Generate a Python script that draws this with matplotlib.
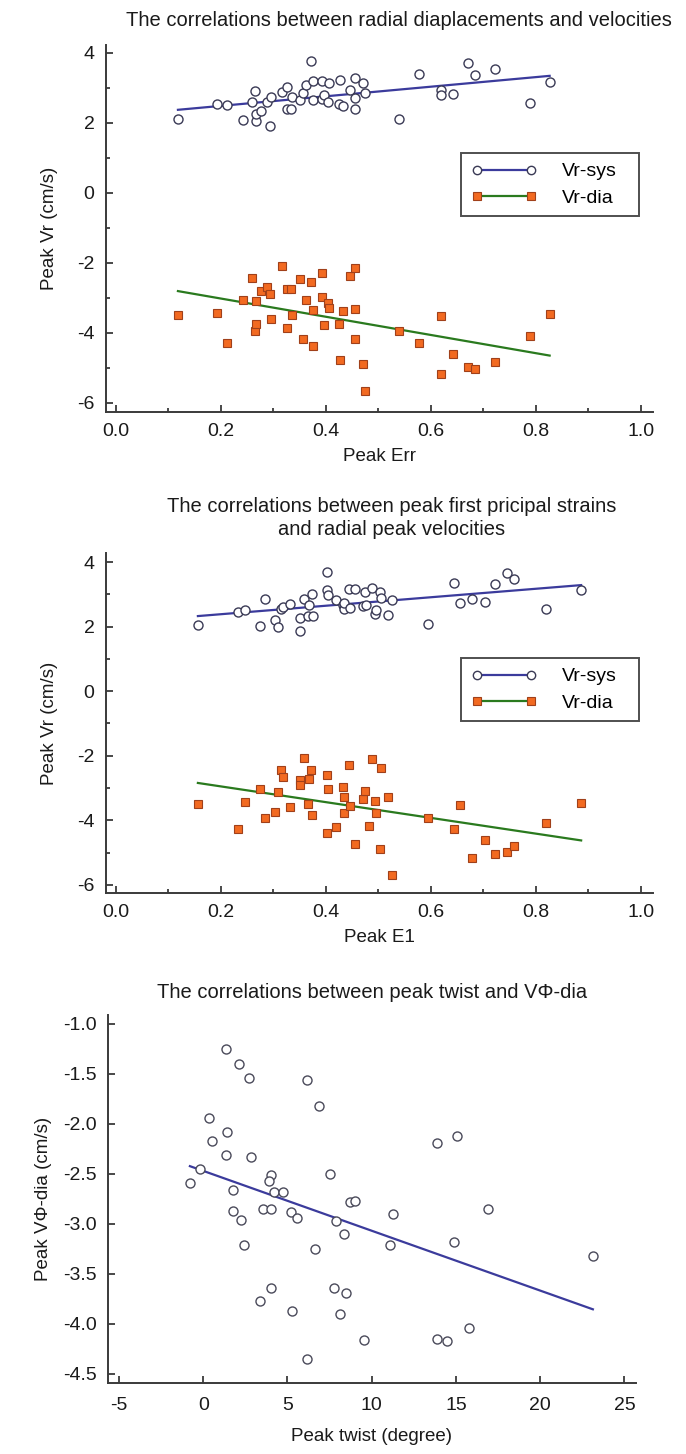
import numpy as np
import matplotlib
matplotlib.use("Agg")
import matplotlib.pyplot as plt
from matplotlib.lines import Line2D
from matplotlib.ticker import MultipleLocator, FormatStrFormatter

plt.rcParams['font.family'] = ['Liberation Sans', 'DejaVu Sans']
plt.rcParams['axes.unicode_minus'] = False

# ---------------- data ----------------
# Panel 1: Peak Err vs Peak Vr
err = [0.118, 0.193, 0.211, 0.242, 0.260, 0.265, 0.267, 0.267, 0.277, 0.288,
       0.293, 0.295, 0.317, 0.326, 0.326, 0.333, 0.335, 0.351, 0.356, 0.361,
       0.372, 0.375, 0.375, 0.392, 0.392, 0.396, 0.404, 0.406, 0.425, 0.427,
       0.432, 0.446, 0.455, 0.455, 0.455, 0.470, 0.474, 0.539, 0.577, 0.619,
       0.619, 0.642, 0.670, 0.684, 0.721, 0.788, 0.826]
vr_sys_1 = [2.10, 2.54, 2.50, 2.07, 2.59, 2.90, 2.05, 2.26, 2.32, 2.59,
            1.90, 2.73, 2.88, 3.02, 2.40, 2.40, 2.73, 2.66, 2.85, 3.07,
            3.76, 3.19, 2.66, 3.19, 2.69, 2.78, 2.59, 3.13, 2.54, 3.23,
            2.47, 2.94, 3.29, 2.71, 2.40, 3.13, 2.85, 2.11, 3.38, 2.92,
            2.78, 2.83, 3.70, 3.35, 3.54, 2.56, 3.16]
vr_dia_1 = [-3.50, -3.45, -4.30, -3.07, -2.43, -3.95, -3.11, -3.74, -2.81, -2.69,
            -2.90, -3.60, -2.10, -2.76, -3.86, -2.76, -3.51, -2.48, -4.19, -3.07,
            -2.55, -3.36, -4.38, -2.97, -2.30, -3.78, -3.14, -3.29, -3.76, -4.77,
            -3.38, -2.38, -2.14, -3.33, -4.19, -4.89, -5.68, -3.95, -4.30, -3.53,
            -5.17, -4.61, -4.99, -5.05, -4.83, -4.10, -3.48]

# Panel 2: Peak E1 vs Peak Vr
e1_sys = [0.156, 0.232, 0.246, 0.275, 0.284, 0.302, 0.309, 0.314, 0.319, 0.332,
          0.351, 0.351, 0.358, 0.366, 0.368, 0.373, 0.375, 0.401, 0.401, 0.404,
          0.420, 0.432, 0.434, 0.435, 0.444, 0.446, 0.456, 0.470, 0.474, 0.477,
          0.488, 0.493, 0.495, 0.502, 0.505, 0.518, 0.525, 0.595, 0.644, 0.656,
          0.679, 0.702, 0.721, 0.744, 0.759, 0.819, 0.886]
vr_sys_2 = [2.05, 2.46, 2.51, 2.02, 2.85, 2.20, 1.99, 2.54, 2.61, 2.69,
            2.26, 1.87, 2.85, 2.33, 2.67, 3.00, 2.33, 3.70, 3.12, 2.98,
            2.81, 2.67, 2.54, 2.74, 3.15, 2.59, 3.15, 2.64, 3.08, 2.66,
            3.21, 2.40, 2.51, 3.08, 2.88, 2.36, 2.81, 2.09, 3.36, 2.74,
            2.85, 2.77, 3.33, 3.67, 3.49, 2.54, 3.12]
e1_dia = [0.156, 0.232, 0.246, 0.275, 0.284, 0.302, 0.309, 0.314, 0.319, 0.332,
          0.351, 0.351, 0.358, 0.366, 0.368, 0.372, 0.373, 0.401, 0.401, 0.404,
          0.420, 0.432, 0.434, 0.435, 0.444, 0.446, 0.456, 0.470, 0.474, 0.481,
          0.488, 0.493, 0.495, 0.502, 0.504, 0.518, 0.525, 0.595, 0.644, 0.656,
          0.679, 0.702, 0.721, 0.744, 0.759, 0.819, 0.886]
vr_dia_2 = [-3.48, -4.28, -3.42, -3.04, -3.94, -3.73, -3.11, -2.44, -2.66, -3.59,
            -2.76, -2.89, -2.06, -3.48, -2.73, -2.44, -3.84, -4.38, -2.58, -3.04,
            -4.21, -2.96, -3.28, -3.76, -2.30, -3.56, -4.74, -3.35, -3.09, -4.18,
            -2.11, -3.40, -3.76, -4.90, -2.37, -3.28, -5.69, -3.94, -4.28, -3.53,
            -5.18, -4.62, -5.03, -4.97, -4.79, -4.07, -3.45]

# Panel 3: Peak twist vs Peak VPhi-dia
twist = [1.33, 2.12, 2.72, 6.19, 6.85, 0.34, 1.39, 0.54, 1.33, 2.82,
         13.86, 15.05, -0.79, -0.20, 1.79, 1.79, 2.24, 2.42, 3.53, 4.01,
         3.93, 4.03, 4.23, 4.76, 5.20, 5.56, 6.65, 7.50, 7.90, 8.37,
         8.73, 9.03, 3.37, 4.01, 5.28, 6.19, 7.78, 8.49, 8.13, 9.56,
         11.29, 11.09, 16.89, 14.91, 23.13, 13.86, 14.46, 15.76]
vphi_dia = [-1.25, -1.40, -1.54, -1.56, -1.82, -1.94, -2.08, -2.17, -2.31, -2.33,
            -2.19, -2.12, -2.59, -2.45, -2.66, -2.87, -2.96, -3.21, -2.85, -2.51,
            -2.57, -2.85, -2.68, -2.68, -2.88, -2.94, -3.25, -2.50, -2.97, -3.10,
            -2.78, -2.77, -3.77, -3.64, -3.87, -4.35, -3.64, -3.69, -3.90, -4.16,
            -2.90, -3.21, -2.85, -3.18, -3.32, -4.15, -4.17, -4.04]

titles = ["The correlations between radial diaplacements and velocities",
          "The correlations between peak first pricipal strains\nand radial peak velocities",
          "The correlations between peak twist and V\u03a6-dia"]
xlabels = ["Peak Err", "Peak E1", "Peak twist (degree)"]
ylabels = ["Peak Vr (cm/s)", "Peak Vr (cm/s)", "Peak V\u03a6-dia (cm/s)"]
legend_labels = ["Vr-sys", "Vr-dia"]

# ---------------- style ----------------
W, H = 686, 1454
fig = plt.figure(figsize=(W / 100, H / 100), dpi=100)

SPINE = '#3a3a3a'
TXT = '#1a1a1a'
SYS_LINE = '#3b3b9c'
SYS_EDGE = '#3a3a55'
DIA_FACE = '#f26a21'
DIA_EDGE = '#a0401a'
DIA_LINE = '#2a7a1e'
TICK_FS = 14
LAB_FS = 13.5
TITLE_FS = 14.5
LEG_FS = 14


def px_axes(l, t, r, b):
    return fig.add_axes([l / W, 1 - b / H, (r - l) / W, (b - t) / H])


def style(ax):
    for s in ['top', 'right']:
        ax.spines[s].set_visible(False)
    for s in ['left', 'bottom']:
        ax.spines[s].set_color(SPINE)
        ax.spines[s].set_linewidth(1.4)
    ax.tick_params(which='both', direction='in', colors=SPINE, labelcolor=TXT,
                   labelsize=TICK_FS, width=1.3)
    ax.tick_params(which='major', length=5, pad=8)
    ax.tick_params(which='minor', length=3)
    ax.set_facecolor('none')


def fit_line(ax, x, y, color):
    x = np.asarray(x); y = np.asarray(y)
    k, b = np.polyfit(x, y, 1)
    xs = np.array([x.min(), x.max()])
    ax.plot(xs, k * xs + b, color=color, lw=1.6, zorder=2)


def legend(ax, anchor):
    h1 = Line2D([], [], color=SYS_LINE, lw=1.6, marker='o', markersize=6,
                markerfacecolor='white', markeredgecolor=SYS_EDGE, markeredgewidth=1.0)
    h2 = Line2D([], [], color=DIA_LINE, lw=1.6, marker='s', markersize=6,
                markerfacecolor=DIA_FACE, markeredgecolor=DIA_EDGE, markeredgewidth=0.8)
    lg = ax.legend([h1, h2], legend_labels, loc='upper left', bbox_to_anchor=anchor,
                   mode='expand', numpoints=2, handlelength=3.4, fontsize=LEG_FS,
                   frameon=True, fancybox=False, borderpad=0.5, labelspacing=0.45,
                   handletextpad=1.3, borderaxespad=0)
    lg.get_frame().set_edgecolor('#222222')
    lg.get_frame().set_linewidth(1.4)


# ---- panel 1
ax1 = px_axes(105.7, 45, 652.7, 411.7)
style(ax1)
ax1.set_xlim(-0.0196, 1.0223)
ax1.set_ylim(-6.26, 4.22)
ax1.xaxis.set_major_locator(MultipleLocator(0.2))
ax1.xaxis.set_minor_locator(MultipleLocator(0.1))
ax1.yaxis.set_major_locator(MultipleLocator(2))
ax1.yaxis.set_minor_locator(MultipleLocator(1))
ax1.xaxis.set_major_formatter(FormatStrFormatter('%.1f'))
fit_line(ax1, err, vr_sys_1, SYS_LINE)
fit_line(ax1, err, vr_dia_1, DIA_LINE)
ax1.plot(err, vr_sys_1, 'o', ms=6.5, mfc='white', mec=SYS_EDGE, mew=1.0, zorder=3)
ax1.plot(err, vr_dia_1, 's', ms=6.3, mfc=DIA_FACE, mec=DIA_EDGE, mew=0.8, zorder=3)
legend(ax1, (0.650, 0.4, 0.325, 0.3055))
ax1.set_xlabel(xlabels[0], fontsize=LAB_FS, color=TXT, labelpad=6)
ax1.set_ylabel(ylabels[0], fontsize=LAB_FS, color=TXT, labelpad=14)
fig.text(399 / W, 1 - 20 / H, titles[0], ha='center', va='center',
         fontsize=TITLE_FS, color=TXT)

# ---- panel 2
ax2 = px_axes(105.7, 553, 652.7, 893)
style(ax2)
ax2.set_xlim(-0.0196, 1.0223)
ax2.set_ylim(-6.25, 4.28)
ax2.xaxis.set_major_locator(MultipleLocator(0.2))
ax2.xaxis.set_minor_locator(MultipleLocator(0.1))
ax2.yaxis.set_major_locator(MultipleLocator(2))
ax2.yaxis.set_minor_locator(MultipleLocator(1))
ax2.xaxis.set_major_formatter(FormatStrFormatter('%.1f'))
fit_line(ax2, e1_sys, vr_sys_2, SYS_LINE)
fit_line(ax2, e1_dia, vr_dia_2, DIA_LINE)
ax2.plot(e1_sys, vr_sys_2, 'o', ms=6.5, mfc='white', mec=SYS_EDGE, mew=1.0, zorder=3)
ax2.plot(e1_dia, vr_dia_2, 's', ms=6.3, mfc=DIA_FACE, mec=DIA_EDGE, mew=0.8, zorder=3)
legend(ax2, (0.650, 0.4, 0.325, 0.291))
ax2.set_xlabel(xlabels[1], fontsize=LAB_FS, color=TXT, labelpad=6)
ax2.set_ylabel(ylabels[1], fontsize=LAB_FS, color=TXT, labelpad=14)
fig.text(392 / W, 1 - 518 / H, titles[1], ha='center', va='center',
         fontsize=TITLE_FS, color=TXT, linespacing=1.3)

# ---- panel 3
ax3 = px_axes(107.7, 1015, 636, 1383.3)
style(ax3)
ax3.set_xlim(-5.67, 25.69)
ax3.set_ylim(-4.593, -0.91)
ax3.xaxis.set_major_locator(MultipleLocator(5))
ax3.yaxis.set_major_locator(MultipleLocator(0.5))
ax3.yaxis.set_major_formatter(FormatStrFormatter('%.1f'))
ax3.tick_params(axis='x', which='major', pad=10)
fit_line(ax3, twist, vphi_dia, SYS_LINE)
ax3.plot(twist, vphi_dia, 'o', ms=6.5, mfc='white', mec='#4a4a5a', mew=1.0, zorder=3)
ax3.set_xlabel(xlabels[2], fontsize=LAB_FS, color=TXT, labelpad=10)
ax3.set_ylabel(ylabels[2], fontsize=LAB_FS, color=TXT, labelpad=8)
fig.text(372 / W, 1 - 993 / H, titles[2], ha='center', va='center',
         fontsize=TITLE_FS, color=TXT)

fig.savefig('out.png', dpi=100, facecolor='white')
